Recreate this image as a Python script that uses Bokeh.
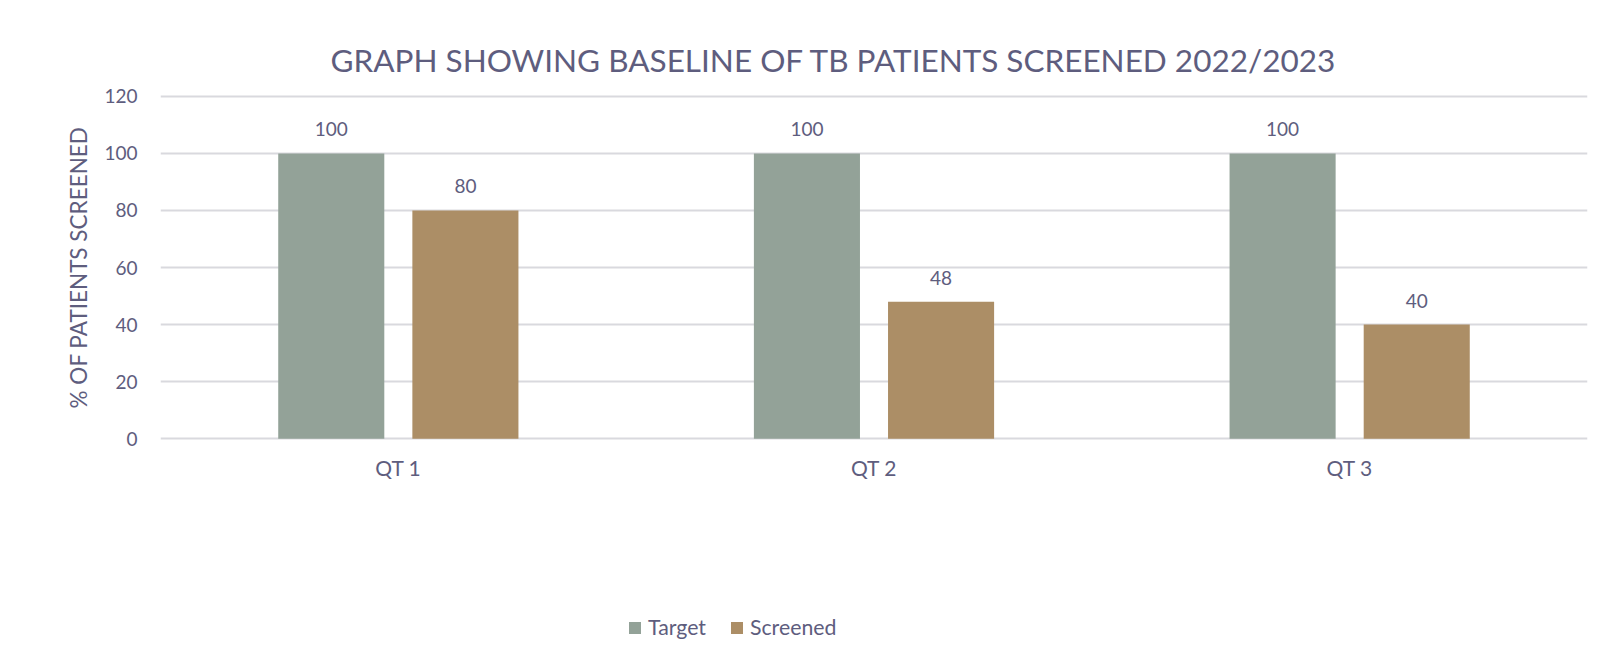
from bokeh.plotting import figure
from bokeh.models import ColumnDataSource, Legend, LegendItem, FactorRange, Title
from bokeh.layouts import column
from bokeh.transform import dodge
from bokeh.core.properties import value
from bokeh.embed import file_html
from bokeh.resources import INLINE

quarters = ["QT 1", "QT 2", "QT 3"]
target = [100, 100, 100]
screened = [80, 48, 40]
y_ticks = [0, 20, 40, 60, 80, 100, 120]

FONT = "Lato"
TXT = "#5E5D7E"
C_T = "#93A298"
C_S = "#AC8E66"
GRID = "#D9D9DE"

src = ColumnDataSource(dict(q=quarters, target=target, screened=screened,
                            tl=[str(v) for v in target], sl=[str(v) for v in screened]))

W = 1599
p = figure(x_range=FactorRange(*quarters), y_range=(-1, 121), width=W, height=520,
           output_backend="svg", toolbar_location=None,
           min_border_left=160, min_border_right=12, min_border_top=93, min_border_bottom=79)
p.outline_line_color = None
p.background_fill_color = "white"
p.border_fill_color = "white"

t = Title(text="GRAPH SHOWING BASELINE OF TB PATIENTS SCREENED 2022/2023", align="left",
          text_font=FONT, text_font_size="31.5px", text_color=TXT, text_font_style="normal",
          offset=170, standoff=30)
p.add_layout(t, "above")

w = 0.223
rt = p.vbar(x=dodge("q", -0.141, range=p.x_range), top="target", width=w, source=src,
            fill_color=C_T, line_color=None)
rs = p.vbar(x=dodge("q", 0.141, range=p.x_range), top="screened", width=w, source=src,
            fill_color=C_S, line_color=None)

p.text(x=dodge("q", -0.141, range=p.x_range), y="target", text="tl", source=src,
       text_align="center", text_baseline="middle", y_offset=-24,
       text_font=value(FONT), text_font_size="19px", text_color=TXT)
p.text(x=dodge("q", 0.141, range=p.x_range), y="screened", text="sl", source=src,
       text_align="center", text_baseline="middle", y_offset=-24,
       text_font=value(FONT), text_font_size="19px", text_color=TXT)

p.yaxis.ticker = y_ticks
p.yaxis.axis_label = "% OF PATIENTS SCREENED"
p.yaxis.axis_label_text_font = FONT
p.yaxis.axis_label_text_font_size = "22.5px"
p.yaxis.axis_label_text_font_style = "normal"
p.yaxis.axis_label_text_color = TXT
p.yaxis.axis_label_standoff = 9
for ax in (p.xaxis, p.yaxis):
    ax.axis_line_color = None
    ax.major_tick_line_color = None
    ax.minor_tick_line_color = None
    ax.major_label_text_font = FONT
    ax.major_label_text_color = TXT
p.yaxis.major_label_text_font_size = "19px"
p.xaxis.major_label_text_font_size = "21px"
p.yaxis.major_label_standoff = 17
p.xaxis.major_label_standoff = 7

p.xgrid.grid_line_color = None
p.ygrid.grid_line_color = GRID
p.ygrid.grid_line_width = 2

# legend strip below the chart (swatches come from zero-size proxy bars)
p2 = figure(width=W, height=135, x_range=(0, 1), y_range=(0, 1),
            x_axis_location=None, y_axis_location=None,
            output_backend="svg", toolbar_location=None,
            min_border_left=0, min_border_right=0, min_border_top=0, min_border_bottom=0)
p2.grid.visible = False
p2.outline_line_color = None
p2.border_fill_color = "white"
p2.background_fill_color = "white"
proxy = ColumnDataSource(dict(x=[0.5], top=[0]))
lt = p2.vbar(x="x", top="top", width=0.0, source=proxy, fill_color=C_T, line_color=None)
ls = p2.vbar(x="x", top="top", width=0.0, source=proxy, fill_color=C_S, line_color=None)
legend = Legend(items=[LegendItem(label="Target", renderers=[lt]),
                       LegendItem(label="Screened", renderers=[ls])],
                orientation="horizontal", location=(467, 15),
                label_text_font=FONT, label_text_font_size="21.3px", label_text_color=TXT,
                glyph_width=15, glyph_height=15, spacing=23, padding=4, margin=0,
                border_line_color=None, background_fill_alpha=0, label_standoff=6)
p2.add_layout(legend, "center")

layout = column(p, p2, spacing=0)
open("out.html", "w").write(file_html(layout, INLINE))
